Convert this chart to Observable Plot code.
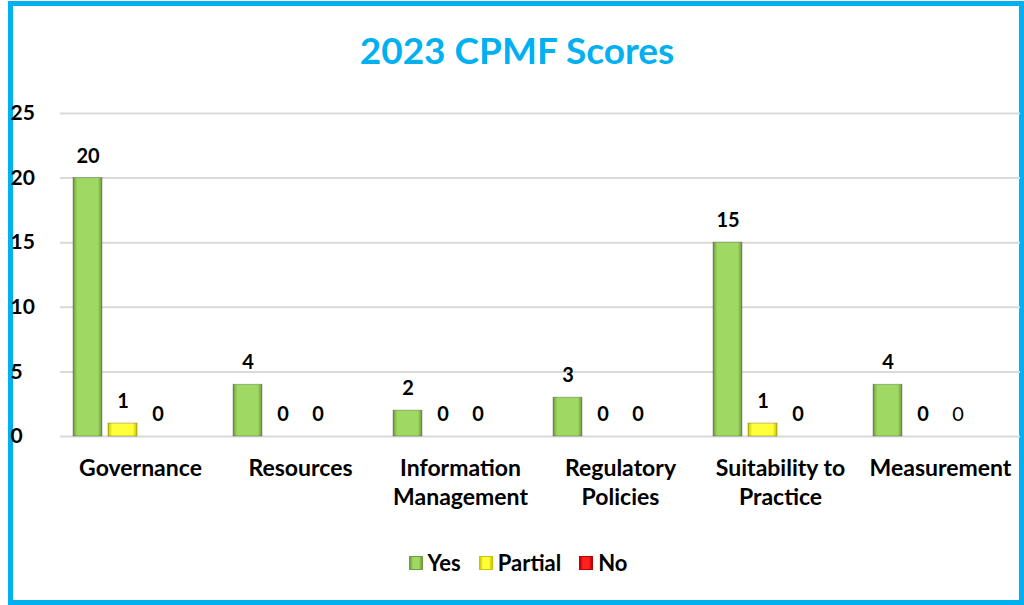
<!DOCTYPE html>
<html>
<head>
<meta charset="utf-8">
<script src="https://cdn.jsdelivr.net/npm/d3@7"></script>
<script src="https://cdn.jsdelivr.net/npm/@observablehq/plot@0.6"></script>
<style>
  html, body { margin: 0; padding: 0; background: #fff; }
  body { width: 1024px; height: 605px; position: relative; overflow: hidden; font-family: Lato, "Open Sans", sans-serif; }
  #frame { position: absolute; left: 8px; top: 1px; width: 1006px; height: 594px; border: 5px solid #00B0F0; }
  #title { position: absolute; left: 0; width: 1034px; top: 25px; text-align: center; color: #00B0F0; font-weight: 700; font-size: 37px; line-height: 50px; }
  #chart { position: absolute; left: 0; top: 0; }
  #legend { position: absolute; top: 549px; left: 0; width: 1036px; display: flex; justify-content: center; gap: 18px; font-weight: 700; font-size: 22px; color: #000; }
  #legend span.item { display: flex; align-items: center; gap: 5px; }
  #legend span.sw { display: inline-block; width: 14px; height: 14px; box-sizing: border-box; }
</style>
</head>
<body>
<div id="frame"></div>
<div id="title">2023 CPMF Scores</div>
<div id="chart"></div>
<div id="legend"></div>
<script>
const categories = ["Governance", "Resources", "Information Management", "Regulatory Policies", "Suitability to Practice", "Measurement"];
const categoryLabels = ["Governance", "Resources", "Information\nManagement", "Regulatory\nPolicies", "Suitability to\nPractice", "Measurement"];
const series = ["Yes", "Partial", "No"];
const yesValues = [20, 4, 2, 3, 15, 4];
const partialValues = [1, 0, 0, 0, 1, 0];
const noValues = [0, 0, 0, 0, 0, 0];
const yTicks = [0, 5, 10, 15, 20, 25];

const seriesColors = {
  Yes: ["#6f9c3c", "#9fd862"],
  Partial: ["#c9c400", "#ffff3a"],
  No: ["#b80000", "#ff2020"]
};

const data = [];
categories.forEach((c, i) => {
  data.push({cat: c, series: "Yes", value: yesValues[i]});
  data.push({cat: c, series: "Partial", value: partialValues[i]});
  data.push({cat: c, series: "No", value: noValues[i]});
});
const labelOf = Object.fromEntries(categories.map((c, i) => [c, categoryLabels[i]]));
const isPlain = d => d.cat === "Measurement" && d.series === "No";

const plot = Plot.plot({
  width: 1024,
  height: 605,
  marginLeft: 60,
  marginRight: 4,
  marginTop: 113,
  marginBottom: 169,
  style: {fontFamily: "Lato, 'Open Sans', sans-serif", background: "transparent"},
  fx: {domain: categories, padding: 0, label: null, axis: null},
  x: {domain: [...series, "__gap"], paddingInner: 0.171, paddingOuter: 0.371, axis: null},
  y: {domain: [0, 25], label: null},
  color: {domain: series, range: series.map(s => `url(#grad-${s})`)},
  marks: [
    Plot.gridY(yTicks, {stroke: "#d9d9d9", strokeOpacity: 1, strokeWidth: 2}),
    Plot.axisY(yTicks, {tickSize: 0, textAnchor: "start", dx: -41, fontSize: 21, fontWeight: 700, fill: "#000", label: null}),
    Plot.axisFx({anchor: "bottom", tickSize: 0, tickPadding: 0, tickFormat: c => labelOf[c], fontSize: 23, fontWeight: 700, fill: "#000", lineHeight: 1.27, dy: 19, label: null}),
    Plot.barY(data, {fx: "cat", x: "series", y: "value", fill: "series", stroke: d => d.value > 0 ? "rgba(0,0,0,0.25)" : "none", strokeWidth: 1}),
    Plot.text(data.filter(d => !isPlain(d)), {fx: "cat", x: "series", y: "value", text: d => String(d.value), dy: -22, fontSize: 20, fontWeight: 700, fill: "#000"}),
    Plot.text(data.filter(isPlain), {fx: "cat", x: "series", y: "value", text: d => String(d.value), dy: -22, fontSize: 20, fontWeight: 400, fill: "#000"})
  ]
});

// gradient definitions for the bevelled bar look
const svgNS = "http://www.w3.org/2000/svg";
const svg = plot.tagName.toLowerCase() === "svg" ? plot : plot.querySelector("svg");
const defs = document.createElementNS(svgNS, "defs");
series.forEach(s => {
  const [edge, mid] = seriesColors[s];
  const g = document.createElementNS(svgNS, "linearGradient");
  g.setAttribute("id", `grad-${s}`);
  g.setAttribute("x1", "0"); g.setAttribute("x2", "1"); g.setAttribute("y1", "0"); g.setAttribute("y2", "0");
  [[0, edge], [0.15, mid], [0.85, mid], [1, edge]].forEach(([o, c]) => {
    const st = document.createElementNS(svgNS, "stop");
    st.setAttribute("offset", o);
    st.setAttribute("stop-color", c);
    g.appendChild(st);
  });
  defs.appendChild(g);
});
svg.insertBefore(defs, svg.firstChild);
document.getElementById("chart").appendChild(plot);

// legend
const legend = document.getElementById("legend");
series.forEach(s => {
  const [edge, mid] = seriesColors[s];
  const item = document.createElement("span");
  item.className = "item";
  const sw = document.createElement("span");
  sw.className = "sw";
  sw.style.background = `linear-gradient(to right, ${edge}, ${mid} 25%, ${mid} 75%, ${edge})`;
  sw.style.border = `1px solid ${edge}`;
  const t = document.createElement("span");
  t.textContent = s;
  item.appendChild(sw); item.appendChild(t);
  legend.appendChild(item);
});
</script>
</body>
</html>
